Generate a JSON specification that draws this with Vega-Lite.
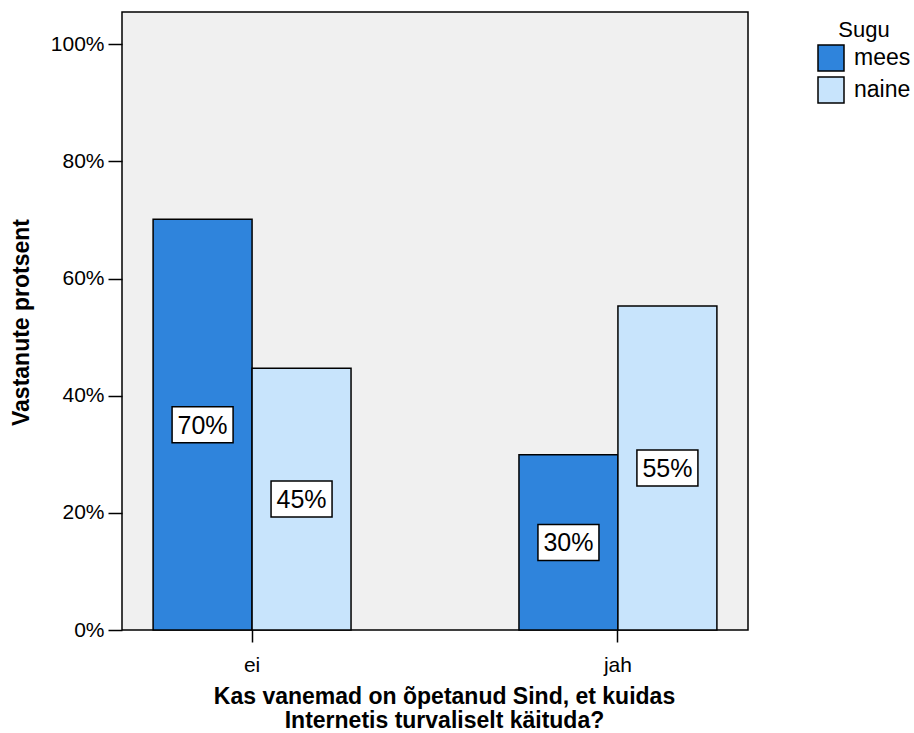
{
  "$schema": "https://vega.github.io/schema/vega-lite/v6.json",
  "width": 626,
  "height": 618,
  "autosize": "none",
  "padding": {"left": 122, "top": 12, "right": 166, "bottom": 103},
  "background": "white",
  "config": {
    "font": "Liberation Sans",
    "view": {"fill": "#F0F0F0", "stroke": "black", "strokeWidth": 1.5}
  },
  "data": {
    "values": [
      {"vastus": "ei", "Sugu": "mees", "osa": 0.701},
      {"vastus": "ei", "Sugu": "naine", "osa": 0.447},
      {"vastus": "jah", "Sugu": "mees", "osa": 0.299},
      {"vastus": "jah", "Sugu": "naine", "osa": 0.553}
    ]
  },
  "encoding": {
    "x": {
      "field": "vastus",
      "type": "nominal",
      "scale": {"paddingInner": 0.459, "paddingOuter": 0.085},
      "axis": {
        "labelAngle": 0,
        "labelFontSize": 21,
        "labelColor": "black",
        "labelPadding": 12,
        "tickSize": 12,
        "tickColor": "black",
        "tickWidth": 1.5,
        "domain": false,
        "title": ["Kas vanemad on õpetanud Sind, et kuidas", "Internetis turvaliselt käituda?"],
        "titleFontSize": 23,
        "titleFontWeight": "bold",
        "titleColor": "black",
        "titleBaseline": "alphabetic",
        "titleAlign": "center",
        "titleX": 322,
        "titleY": 73,
        "titleLineHeight": 24
      }
    },
    "xOffset": {"field": "Sugu", "type": "nominal", "scale": {"paddingInner": 0, "paddingOuter": 0}}
  },
  "layer": [
    {
      "mark": {"type": "bar", "stroke": "black", "strokeWidth": 1.5, "opacity": 1},
      "encoding": {
        "y": {
          "field": "osa",
          "type": "quantitative",
          "scale": {"domain": [0, 1.055], "nice": false},
          "axis": {
            "format": ".0%",
            "values": [0, 0.2, 0.4, 0.6, 0.8, 1.0],
            "grid": false,
            "labelFontSize": 21,
            "labelColor": "black",
            "labelPadding": 4,
            "tickSize": 14,
            "tickColor": "black",
            "tickWidth": 1.5,
            "domain": false,
            "title": "Vastanute protsent",
            "titleFontSize": 23,
            "titleFontWeight": "bold",
            "titleColor": "black",
            "titleAngle": -90,
            "titleBaseline": "middle",
            "titleAlign": "center",
            "titleX": -101,
            "titleY": 310
          }
        },
        "color": {
          "field": "Sugu",
          "type": "nominal",
          "scale": {"domain": ["mees", "naine"], "range": ["#2F84DC", "#C8E4FC"]},
          "legend": {
            "orient": "none",
            "legendX": 695,
            "legendY": 8,
            "padding": 0,
            "title": "Sugu",
            "titleFontSize": 22,
            "titleFontWeight": "normal",
            "titleColor": "black",
            "titleAnchor": "middle",
            "titlePadding": 2,
            "symbolType": "square",
            "symbolSize": 676,
            "symbolStrokeColor": "black",
            "symbolStrokeWidth": 1.5,
            "symbolOpacity": 1,
            "labelFontSize": 23,
            "labelColor": "black",
            "labelOffset": 9,
            "rowPadding": 0
          }
        }
      }
    },
    {
      "transform": [{"calculate": "datum.osa / 2", "as": "kesk"}],
      "mark": {
        "type": "point",
        "shape": "M-1,-0.59L1,-0.59L1,0.59L-1,0.59Z",
        "size": 3721,
        "filled": true,
        "fill": "white",
        "stroke": "black",
        "strokeWidth": 1.5,
        "opacity": 1
      },
      "encoding": {
        "y": {"field": "kesk", "type": "quantitative", "title": "Vastanute protsent"}
      }
    },
    {
      "transform": [{"calculate": "datum.osa / 2", "as": "kesk"}],
      "mark": {"type": "text", "fontSize": 25, "color": "black", "baseline": "middle", "dy": 1},
      "encoding": {
        "y": {"field": "kesk", "type": "quantitative", "title": "Vastanute protsent"},
        "text": {"field": "osa", "type": "quantitative", "format": ".0%"}
      }
    }
  ]
}
